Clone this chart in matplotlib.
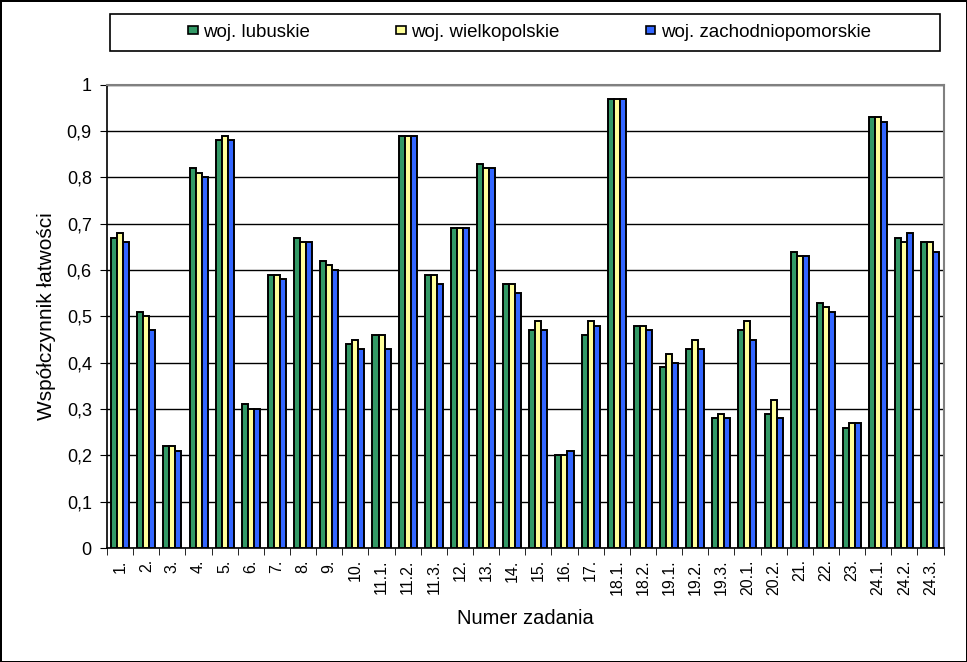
import matplotlib.pyplot as plt
from matplotlib.patches import Rectangle
import numpy as np

plt.rcParams['font.family'] = ['Liberation Sans', 'DejaVu Sans']

tasks = ['1.', '2.', '3.', '4.', '5.', '6.', '7.', '8.', '9.', '10.',
         '11.1.', '11.2.', '11.3.', '12.', '13.', '14.', '15.', '16.', '17.',
         '18.1.', '18.2.', '19.1.', '19.2.', '19.3.', '20.1.', '20.2.',
         '21.', '22.', '23.', '24.1.', '24.2.', '24.3.']

lubuskie = [0.67, 0.51, 0.22, 0.82, 0.88, 0.31, 0.59, 0.67, 0.62, 0.44,
            0.46, 0.89, 0.59, 0.69, 0.83, 0.57, 0.47, 0.20, 0.46,
            0.97, 0.48, 0.39, 0.43, 0.28, 0.47, 0.29,
            0.64, 0.53, 0.26, 0.93, 0.67, 0.66]
wielkopolskie = [0.68, 0.50, 0.22, 0.81, 0.89, 0.30, 0.59, 0.66, 0.61, 0.45,
                 0.46, 0.89, 0.59, 0.69, 0.82, 0.57, 0.49, 0.20, 0.49,
                 0.97, 0.48, 0.42, 0.45, 0.29, 0.49, 0.32,
                 0.63, 0.52, 0.27, 0.93, 0.66, 0.66]
zachodniopomorskie = [0.66, 0.47, 0.21, 0.80, 0.88, 0.30, 0.58, 0.66, 0.60, 0.43,
                      0.43, 0.89, 0.57, 0.69, 0.82, 0.55, 0.47, 0.21, 0.48,
                      0.97, 0.47, 0.40, 0.43, 0.28, 0.45, 0.28,
                      0.63, 0.51, 0.27, 0.92, 0.68, 0.64]

series = [('woj. lubuskie', lubuskie, '#339966'),
          ('woj. wielkopolskie', wielkopolskie, '#FFFF99'),
          ('woj. zachodniopomorskie', zachodniopomorskie, '#3366FF')]

fig = plt.figure(figsize=(9.67, 6.62), dpi=100, edgecolor='black', linewidth=2)
ax = fig.add_axes([0.1107, 0.172, 0.865, 0.700])

x = np.arange(len(tasks))
w = 0.23
for i, (name, vals, col) in enumerate(series):
    ax.bar(x + (i - 1) * w, vals, w, color=col, edgecolor='black',
           linewidth=1.4, label=name, zorder=3)

ax.set_xlim(-0.5, len(tasks) - 0.5)
ax.set_ylim(0, 1)
yt = np.arange(0, 1.01, 0.1)
ax.set_yticks(yt)
ax.set_yticklabels(['0'] + [('%.1f' % v).replace('.', ',') for v in yt[1:-1]] + ['1'],
                   fontsize=13)
ax.yaxis.grid(True, color='black', linewidth=1, zorder=0)

ax.set_xticks(x)
ax.set_xticklabels(tasks, rotation=90, fontsize=11.5)
ax.set_xticks(np.arange(-0.5, len(tasks)), minor=True)
ax.tick_params(axis='x', which='major', length=0, pad=8)
ax.tick_params(axis='x', which='minor', length=5, direction='out')
ax.tick_params(axis='y', length=5, direction='out', pad=6)

for s in ['top', 'right']:
    ax.spines[s].set_color('#808080')
    ax.spines[s].set_linewidth(1.5)
ax.spines['left'].set_linewidth(1.2)
ax.spines['bottom'].set_linewidth(1.2)

ax.set_ylabel('Współczynnik łatwości', fontsize=15, labelpad=8)
ax.set_xlabel('Numer zadania', fontsize=14.5, labelpad=10)

# legend box spanning the plot width
fig.patches.append(Rectangle((110 / 967, 1 - 51 / 662), 830 / 967, 37 / 662,
                             transform=fig.transFigure, fill=False,
                             edgecolor='black', linewidth=1.2))
leg = fig.legend(loc='center', bbox_to_anchor=(0.5476, 1 - 32.5 / 662),
                 ncol=3, fontsize=13.5, frameon=False,
                 handlelength=0.5, handleheight=0.3,
                 handletextpad=0.3, columnspacing=4.6)
for h in leg.legend_handles:
    h.set_linewidth(1.2)

fig.savefig('out.png', dpi=100, edgecolor=fig.get_edgecolor())
